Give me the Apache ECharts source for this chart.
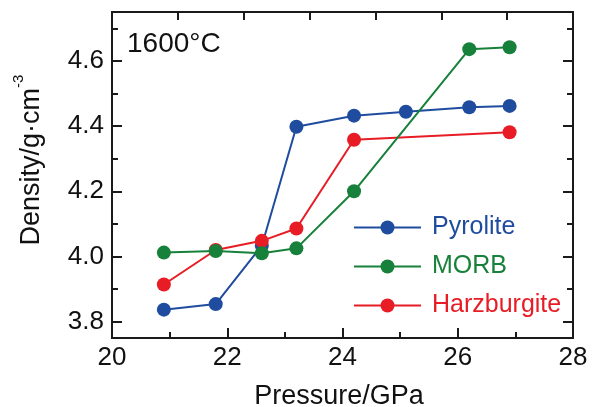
<!DOCTYPE html>
<html>
<head>
<meta charset="utf-8">
<script src="https://cdn.jsdelivr.net/npm/echarts@6/dist/echarts.min.js"></script>
<style>
html,body{margin:0;padding:0;background:#fff;}
#chart{width:597px;height:407px;}
</style>
</head>
<body>
<div id="chart"></div>
<script>
// ---- data ----
var seriesNames = ['Pyrolite', 'MORB', 'Harzburgite'];
var pyroliteP = [20.9, 21.8, 22.6, 23.2, 24.2, 25.1, 26.2, 26.9];
var pyroliteD = [3.837, 3.854, 4.033, 4.398, 4.432, 4.444, 4.458, 4.462];
var morbP = [20.9, 21.8, 22.6, 23.2, 24.2, 26.2, 26.9];
var morbD = [4.012, 4.017, 4.010, 4.025, 4.200, 4.636, 4.642];
var harzP = [20.9, 21.8, 22.6, 23.2, 24.2, 26.9];
var harzD = [3.914, 4.020, 4.048, 4.086, 4.358, 4.381];
var xMin = 20, xMax = 28, xStep = 2;
var yMin = 3.75, yMax = 4.75;
var yMajorTicks = [3.8, 4.0, 4.2, 4.4, 4.6];
var yMinorTicks = [3.9, 4.1, 4.3, 4.5, 4.7];
var topTickCount = 7;
var tempLabel = '1600°C';
var xName = 'Pressure/GPa';
var yNameMain = 'Density/g·cm';
var yNameSup = '-3';

function pairs(xs, ys) { return xs.map(function (x, i) { return [x, ys[i]]; }); }

var FONT = 'Liberation Sans, Arial, Helvetica, sans-serif';
var AX = '#1a1a1a';
var colors = { Pyrolite: '#1f4c9e', MORB: '#17803a', Harzburgite: '#e81c24' };

var chart = echarts.init(document.getElementById('chart'), null, { renderer: 'canvas' });

function yAxisDef(pos, ticks, len, showLabel) {
  return {
    type: 'value', position: pos, min: yMin, max: yMax, gridIndex: 0,
    axisLine: { show: true, onZero: false, lineStyle: { color: AX, width: 2 } },
    axisTick: { show: true, inside: true, length: len, customValues: ticks, lineStyle: { color: AX, width: 2 } },
    axisLabel: showLabel ? { show: true, customValues: ticks, margin: 8, fontSize: 26, fontFamily: FONT, color: '#111',
      formatter: function (v) { return v.toFixed(1); } } : { show: false },
    splitLine: { show: false }
  };
}

var option = {
  animation: false,
  backgroundColor: '#fff',
  grid: { left: 112, right: 24, top: 12, bottom: 69, containLabel: false },
  xAxis: [
    {
      type: 'value', position: 'bottom', min: xMin, max: xMax, interval: xStep,
      axisLine: { show: true, onZero: false, lineStyle: { color: AX, width: 2 } },
      axisTick: { show: true, inside: true, length: 10, lineStyle: { color: AX, width: 2 } },
      minorTick: { show: true, splitNumber: 2, length: 6, lineStyle: { color: AX, width: 2 } },
      axisLabel: { margin: 7, fontSize: 26, fontFamily: FONT, color: '#111' },
      splitLine: { show: false }
    },
    {
      type: 'value', position: 'top', min: 0, max: topTickCount, interval: 1,
      axisLine: { show: true, onZero: false, lineStyle: { color: AX, width: 2 } },
      axisTick: { show: true, inside: true, length: 8, lineStyle: { color: AX, width: 2 } },
      axisLabel: { show: false },
      splitLine: { show: false }
    }
  ],
  yAxis: [
    yAxisDef('left', yMajorTicks, 10, true),
    yAxisDef('left', yMinorTicks, 6, false),
    yAxisDef('right', yMajorTicks, 10, false),
    yAxisDef('right', yMinorTicks, 6, false)
  ],
  legend: {
    orient: 'vertical', left: 348, top: 210, itemWidth: 67, itemHeight: 17.5, itemGap: 14,
    textStyle: { fontSize: 25, fontFamily: FONT, padding: [0, 0, 0, 6] },
    data: seriesNames.map(function (n) { return { name: n, textStyle: { color: colors[n] } }; })
  },
  graphic: [
    { type: 'text', x: 127, y: 44, style: { text: tempLabel, fill: '#111', fontSize: 28, fontFamily: FONT, align: 'left', verticalAlign: 'middle' } },
    { type: 'text', x: 339, y: 383, style: { text: xName, fill: '#111', fontSize: 27, fontFamily: FONT, align: 'center', verticalAlign: 'top' } },
    { type: 'text', x: 31.5, y: 160, rotation: Math.PI / 2,
      style: { text: '{a|' + yNameMain + '}{s|' + yNameSup + '}', fill: '#111', align: 'center', verticalAlign: 'middle',
        rich: {
          a: { fontSize: 27, fontFamily: FONT, fill: '#111', lineHeight: 40 },
          s: { fontSize: 15, fontFamily: FONT, fill: '#111', lineHeight: 15, verticalAlign: 'top' }
        } } }
  ],
  series: [
    { name: 'Pyrolite', type: 'line', data: pairs(pyroliteP, pyroliteD), xAxisIndex: 0, yAxisIndex: 0,
      symbol: 'circle', symbolSize: 14, color: colors.Pyrolite, lineStyle: { width: 2, color: colors.Pyrolite }, z: 2 },
    { name: 'Harzburgite', type: 'line', data: pairs(harzP, harzD), xAxisIndex: 0, yAxisIndex: 0,
      symbol: 'circle', symbolSize: 14, color: colors.Harzburgite, lineStyle: { width: 2, color: colors.Harzburgite }, z: 3 },
    { name: 'MORB', type: 'line', data: pairs(morbP, morbD), xAxisIndex: 0, yAxisIndex: 0,
      symbol: 'circle', symbolSize: 14, color: colors.MORB, lineStyle: { width: 2, color: colors.MORB }, z: 4 }
  ]
};
chart.setOption(option);
</script>
</body>
</html>
